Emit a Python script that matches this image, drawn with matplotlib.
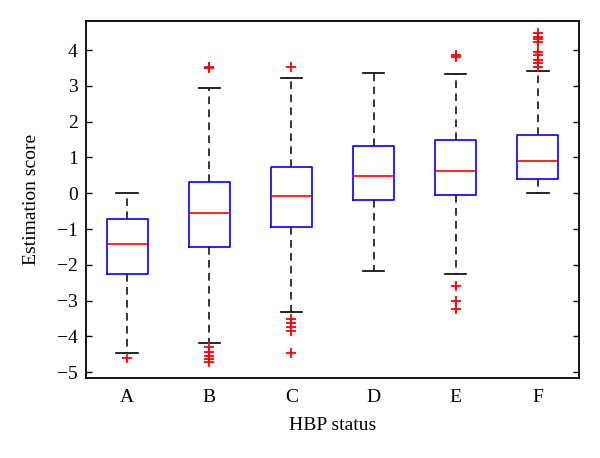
import matplotlib
matplotlib.use("Agg")
import matplotlib.pyplot as plt

categories = ["A", "B", "C", "D", "E", "F"]
whisker_low = [-4.46, -4.18, -3.32, -2.18, -2.26, 0.01]
q1 = [-2.26, -1.51, -0.94, -0.20, -0.05, 0.41]
medians = [-1.43, -0.54, -0.09, 0.49, 0.63, 0.91]
q3 = [-0.73, 0.31, 0.74, 1.33, 1.48, 1.62]
whisker_high = [0.00, 2.93, 3.23, 3.37, 3.33, 3.42]
outliers = [
    [-4.61],
    [3.50, 3.53, -4.29, -4.43, -4.54, -4.64, -4.72],
    [3.53, -3.50, -3.62, -3.73, -3.85, -4.47],
    [],
    [3.82, 3.86, -2.59, -3.00, -3.22],
    [4.47, 4.37, 4.31, 4.23, 3.95, 3.86, 3.72, 3.63, 3.53],
]
yticks = [-5, -4, -3, -2, -1, 0, 1, 2, 3, 4]

plt.rcParams["font.family"] = ["Liberation Serif", "DejaVu Serif"]

fig = plt.figure(figsize=(6.0, 4.58), dpi=100)
ax = fig.add_axes([0.1433, 0.1747, 0.8217, 0.7801])

stats = []
for i, c in enumerate(categories):
    stats.append(dict(label=c, whislo=whisker_low[i], q1=q1[i], med=medians[i],
                      q3=q3[i], whishi=whisker_high[i], fliers=outliers[i]))

ax.bxp(stats, positions=range(1, len(categories) + 1), widths=0.5, capwidths=0.26,
       boxprops=dict(color="#0000ff", linewidth=1.2),
       medianprops=dict(color="#ff0000", linewidth=1.2),
       whiskerprops=dict(color="black", linewidth=1.1, linestyle=(0, (5, 3.5))),
       capprops=dict(color="black", linewidth=1.2),
       flierprops=dict(marker="+", markeredgecolor="#ff0000", markersize=7.5,
                       markeredgewidth=1.3, linestyle="none"))

ax.set_xlim(0.5, 6.5)
ax.set_ylim(-5.16, 4.82)
ax.set_yticks(yticks)
ax.set_yticklabels([str(t).replace("-", "\u2212") for t in yticks])
ax.tick_params(axis="y", direction="in", length=4, width=1, right=True,
               labelsize=14, pad=6)
ax.tick_params(axis="x", length=0, labelsize=14, pad=8)
for s in ax.spines.values():
    s.set_linewidth(1.3)
    s.set_color("black")

ax.set_xlabel("HBP status", fontsize=14, labelpad=8)
ax.set_ylabel("Estimation score", fontsize=14, labelpad=12)

fig.savefig("out.png", dpi=100)
